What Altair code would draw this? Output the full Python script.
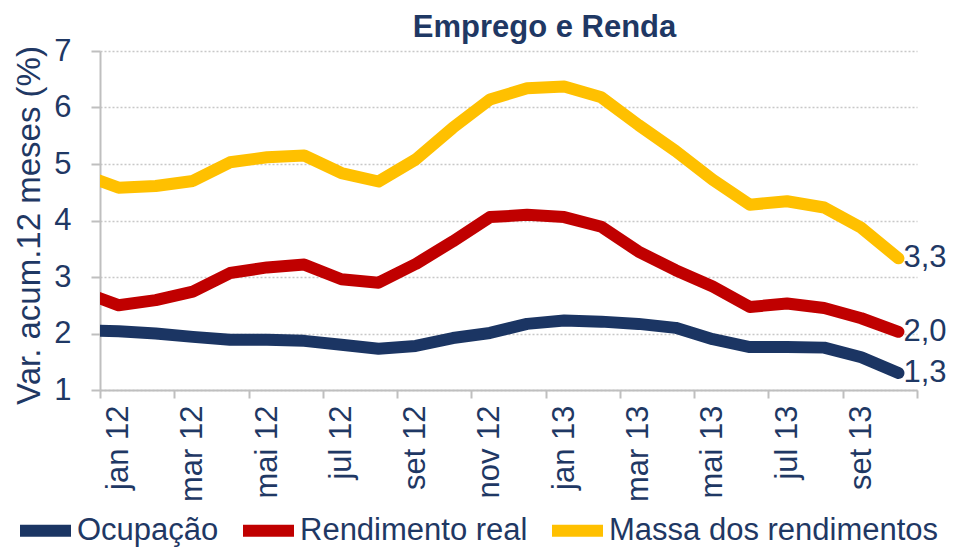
import json
import altair as alt
import pandas as pd

# ---- data ----
months = ["dez 11", "jan 12", "fev 12", "mar 12", "abr 12", "mai 12", "jun 12", "jul 12",
          "ago 12", "set 12", "out 12", "nov 12", "dez 12", "jan 13", "fev 13", "mar 13",
          "abr 13", "mai 13", "jun 13", "jul 13", "ago 13", "set 13", "out 13"]
ocupacao = [2.06, 2.04, 2.00, 1.94, 1.89, 1.89, 1.87, 1.80, 1.73, 1.78, 1.92, 2.01,
            2.17, 2.23, 2.21, 2.17, 2.10, 1.90, 1.76, 1.76, 1.75, 1.58, 1.30]
rendimento_real = [2.74, 2.50, 2.59, 2.74, 3.07, 3.17, 3.22, 2.96, 2.90, 3.23, 3.63, 4.06,
                   4.10, 4.06, 3.89, 3.45, 3.12, 2.83, 2.47, 2.53, 2.45, 2.27, 2.03]
massa = [4.82, 4.58, 4.61, 4.70, 5.03, 5.12, 5.15, 4.84, 4.69, 5.08, 5.64, 6.14,
         6.34, 6.37, 6.18, 5.69, 5.23, 4.72, 4.28, 4.34, 4.23, 3.87, 3.33]
series_names = ["Ocupação", "Rendimento real", "Massa dos rendimentos"]
series_colors = ["#1B3563", "#C00000", "#FFC000"]
y_ticks = [1, 2, 3, 4, 5, 6, 7]

NAVY = "#1F3864"
GRAY = "#BFBFBF"
FONT = "Liberation Sans"

rows = []
for name, vals in zip(series_names, [ocupacao, rendimento_real, massa]):
    for i, (m, v) in enumerate(zip(months, vals)):
        rows.append({
            "serie": name, "mes": m, "idx": i - 1, "valor": v,
            "rotulo": f"{v:.1f}".replace(".", ",") if i == len(vals) - 1 else "",
        })
df = pd.DataFrame(rows)

label_months = months[1:]
tick_vals = [-0.5 + 2 * k for k in range(12)]
label_expr = f"{json.dumps(label_months)}[round(datum.value + 0.5)] || ''"

x_enc = alt.X(
    "idx:Q",
    scale=alt.Scale(domain=[-0.5, 21.5], nice=False, zero=False),
    axis=alt.Axis(
        values=tick_vals, labelExpr=label_expr, labelAngle=270, labelAlign="right",
        labelBaseline="middle", labelOffset=18.57, labelPadding=7, tickSize=8,
        tickWidth=2, tickColor=GRAY, domainColor=GRAY, domainWidth=2, grid=False,
        labelFontSize=31, labelColor=NAVY, labelFont=FONT, title=None,
        labelOverlap=False, labelFlush=False, labelBound=False,
    ),
)
y_enc = alt.Y(
    "valor:Q",
    scale=alt.Scale(domain=[1, 7], nice=False, zero=False),
    axis=alt.Axis(
        values=y_ticks, format="d", grid=True, gridDash=[2, 2], gridColor="#C8C8C8",
        gridWidth=1.3, tickSize=9, tickWidth=2, tickColor=GRAY, domainColor=GRAY,
        domainWidth=2, labelFontSize=31, labelColor=NAVY, labelFont=FONT, labelPadding=20,
        title="Var. acum.12 meses (%)", titleX=-61, titleY=174, titleAngle=270,
        titleAlign="center", titleBaseline="alphabetic", titleFontSize=33,
        titleFontWeight="normal", titleColor=NAVY, titleFont=FONT,
    ),
)

color_enc = alt.Color(
    "serie:N",
    scale=alt.Scale(domain=series_names, range=series_colors),
    legend=alt.Legend(
        title=None, orient="none", legendX=-86, legendY=448, direction="horizontal",
        symbolType="stroke", symbolSize=2601, symbolStrokeWidth=12, labelFontSize=31,
        labelColor=NAVY, labelFont=FONT, columnPadding=0, labelOffset=0, padding=0,
        labelLimit=500,
    ),
)

base = alt.Chart(df)

lines = base.mark_line(strokeWidth=12, strokeCap="round", strokeJoin="round", clip=True).encode(
    x=x_enc, y=y_enc, color=color_enc, order="idx:Q"
)

labels = base.transform_filter("datum.rotulo != ''").mark_text(
    align="left", baseline="middle", dx=5, fontSize=31, font=FONT, color=NAVY
).encode(x="idx:Q", y="valor:Q", text="rotulo:N")

chart = alt.layer(lines, labels).properties(
    width=817,
    height=339,
    autosize=alt.AutoSizeParams(type="none"),
    padding={"left": 92, "top": 43, "right": 30, "bottom": 160},
    title=alt.TitleParams(
        text="Emprego e Renda", fontSize=31, fontWeight="bold", color=NAVY, font=FONT,
        anchor="middle", frame="group", dx=36, dy=33, baseline="alphabetic", offset=0,
    ),
).configure_view(strokeWidth=0)

chart.save("out.html", embed_options={"renderer": "svg", "actions": False})
